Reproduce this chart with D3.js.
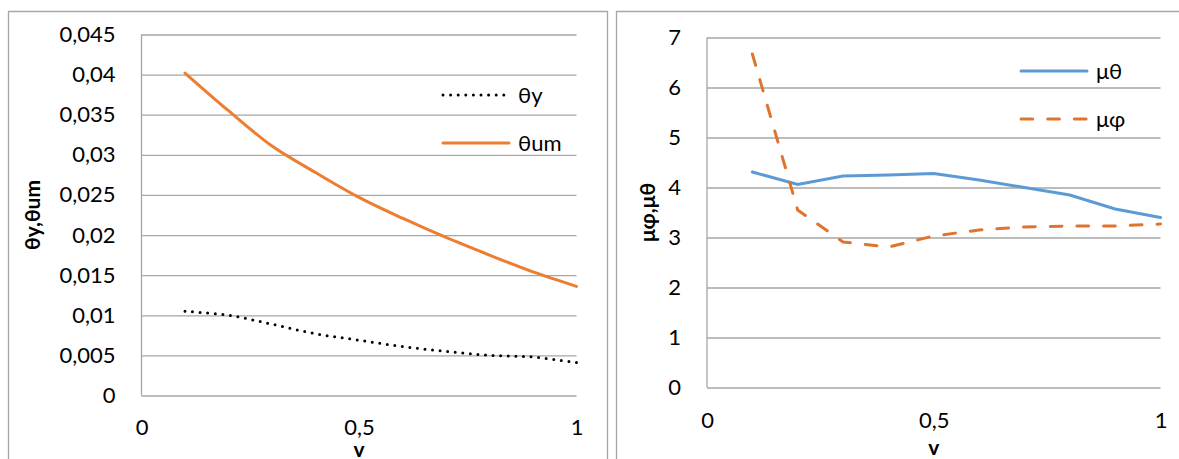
<!DOCTYPE html>
<html>
<head>
<meta charset="utf-8">
<script src="https://cdn.jsdelivr.net/npm/d3@7"></script>
<style>
  body { margin: 0; background: #fff; }
  text { font-family: Lato, "Open Sans", sans-serif; fill: #000; }
</style>
</head>
<body>
<div id="chart"></div>
<script>
// data
const vValues = [0.1, 0.2, 0.3, 0.4, 0.5, 0.6, 0.7, 0.8, 0.9, 1.0];
const thetaY = [0.0105, 0.0100, 0.0089, 0.0077, 0.0069, 0.0061, 0.0055, 0.0050, 0.0048, 0.0041];
const thetaUm = [0.0402, 0.0355, 0.0311, 0.0278, 0.0247, 0.0221, 0.0197, 0.0175, 0.0154, 0.0136];
const muTheta = [4.31, 4.06, 4.23, 4.25, 4.28, 4.15, 4.00, 3.85, 3.57, 3.40];
const muPhi = [6.67, 3.55, 2.91, 2.81, 3.03, 3.15, 3.21, 3.23, 3.23, 3.27];
const leftYTicks = [0, 0.005, 0.01, 0.015, 0.02, 0.025, 0.03, 0.035, 0.04, 0.045];
const rightYTicks = [0, 1, 2, 3, 4, 5, 6, 7];
const xTicks = [0, 0.5, 1];

const loc = d3.formatLocale({ decimal: ",", thousands: " ", grouping: [3], currency: ["", ""] });
const fmt = v => loc.format("~g")(v);

const svg = d3.select("#chart").append("svg")
    .attr("width", 1179)
    .attr("height", 459);

svg.append("rect").attr("width", 1179).attr("height", 459).attr("fill", "#fff");

const gray = "#a6a6a6";

// chart frames
svg.append("path")
    .attr("d", "M8.5,459 V11.5 H607.5 V459")
    .attr("fill", "none").attr("stroke", gray).attr("stroke-width", 1.3);
svg.append("path")
    .attr("d", "M616.5,459 V11.5 H1179")
    .attr("fill", "none").attr("stroke", gray).attr("stroke-width", 1.3);

function drawPanel(opt) {
    const x = d3.scaleLinear().domain([0, 1]).range([opt.left, opt.right]);
    const y = d3.scaleLinear().domain([0, opt.yMax]).range([opt.bottom, opt.top]);
    const g = svg.append("g");

    // gridlines
    g.append("g")
        .attr("transform", `translate(${opt.left},0)`)
        .call(d3.axisLeft(y).tickValues(opt.yTicks).tickSize(-(opt.right - opt.left)).tickFormat(""))
        .call(a => a.select(".domain").remove())
        .call(a => a.selectAll("line").attr("stroke", gray).attr("stroke-width", 1.3));

    // y axis line
    g.append("line")
        .attr("x1", opt.left).attr("x2", opt.left)
        .attr("y1", opt.top).attr("y2", opt.bottom)
        .attr("stroke", gray).attr("stroke-width", 1.3);

    // y tick labels
    g.append("g")
        .attr("transform", `translate(${opt.left},0)`)
        .call(d3.axisLeft(y).tickValues(opt.yTicks).tickSize(0).tickPadding(26).tickFormat(fmt))
        .call(a => a.select(".domain").remove())
        .call(a => a.selectAll("text").style("font-size", "22px").attr("fill", "#000"));

    // x tick labels
    g.append("g")
        .attr("transform", `translate(0,${opt.bottom})`)
        .call(d3.axisBottom(x).tickValues(xTicks).tickSize(0).tickPadding(opt.xPad).tickFormat(fmt))
        .call(a => a.select(".domain").remove())
        .call(a => a.selectAll("text").style("font-size", "22px").attr("fill", "#000"));

    // axis titles
    g.append("text")
        .attr("x", (opt.left + opt.right) / 2)
        .attr("y", opt.xTitleY)
        .attr("text-anchor", "middle")
        .style("font-size", "21px").style("font-weight", "bold")
        .text("v");

    g.append("text")
        .attr("transform", `translate(${opt.yTitleX},${(opt.top + opt.bottom) / 2}) rotate(-90)`)
        .attr("text-anchor", "middle")
        .attr("dy", "0.35em")
        .style("font-size", "21px").style("font-weight", "bold")
        .text(opt.yTitle);

    // series
    opt.series.forEach(s => {
        const line = d3.line()
            .x((d, i) => x(vValues[i]))
            .y(d => y(d))
            .curve(s.curve || d3.curveLinear);
        g.append("path")
            .datum(s.values)
            .attr("d", line)
            .attr("fill", "none")
            .attr("stroke", s.color)
            .attr("stroke-width", s.width)
            .attr("stroke-linecap", "round")
            .attr("stroke-dasharray", s.dash || null);

        g.append("line")
            .attr("x1", opt.legendX).attr("x2", opt.legendX + 66)
            .attr("y1", s.legendY).attr("y2", s.legendY)
            .attr("stroke", s.color)
            .attr("stroke-width", s.width)
            .attr("stroke-linecap", "round")
            .attr("stroke-dasharray", s.dash || null);

        g.append("text")
            .attr("x", opt.legendX + 75)
            .attr("y", s.legendY)
            .attr("dy", "0.35em")
            .style("font-size", "22px")
            .text(s.name);
    });
}

drawPanel({
    left: 141.5, right: 576.5, top: 34.5, bottom: 395.5,
    yMax: 0.045, yTicks: leftYTicks, xPad: 24,
    xTitleY: 457, yTitleX: 33, yTitle: "θy,θum",
    legendX: 443,
    series: [
        { name: "θy", values: thetaY, color: "#000", width: 3, dash: "0,7.6", curve: d3.curveCatmullRom, legendY: 95 },
        { name: "θum", values: thetaUm, color: "#ed7d31", width: 3, curve: d3.curveCatmullRom, legendY: 143 }
    ]
});

drawPanel({
    left: 707, right: 1160.5, top: 37.5, bottom: 387.5,
    yMax: 7, yTicks: rightYTicks, xPad: 25,
    xTitleY: 455, yTitleX: 648, yTitle: "μφ,μθ",
    legendX: 1021,
    series: [
        { name: "μθ", values: muTheta, color: "#5b9bd5", width: 3, legendY: 71 },
        { name: "μφ", values: muPhi, color: "#e0742e", width: 3, dash: "11.7,15", legendY: 119 }
    ]
});
</script>
</body>
</html>
